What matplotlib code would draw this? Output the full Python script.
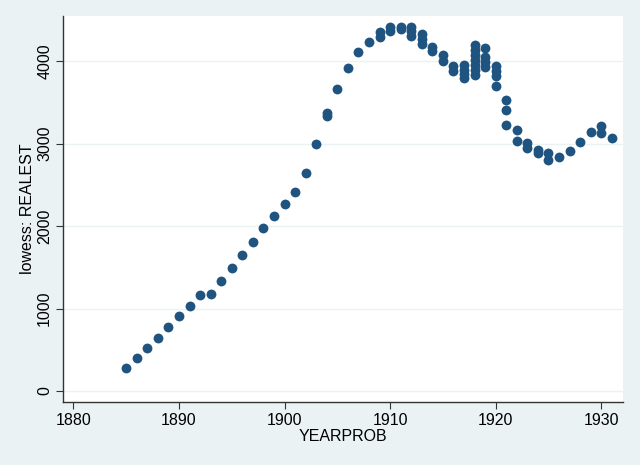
import matplotlib.pyplot as plt

plt.rcParams['font.family'] = ['Liberation Sans', 'DejaVu Sans']

years = [1885, 1886, 1887, 1888, 1889, 1890, 1891, 1892, 1893, 1894,
         1895, 1896, 1897, 1898, 1899, 1900, 1901, 1902, 1903, 1904, 1904,
         1905, 1906, 1907, 1908, 1909, 1909, 1910, 1910, 1911, 1911,
         1912, 1912, 1912, 1913, 1913, 1913, 1914, 1914, 1915, 1915,
         1916, 1916, 1917, 1917, 1917, 1917,
         1918, 1918, 1918, 1918, 1918, 1918, 1918,
         1919, 1919, 1919, 1919, 1920, 1920, 1920, 1920,
         1921, 1921, 1921, 1922, 1922, 1923, 1923, 1924, 1924,
         1925, 1925, 1926, 1927, 1928, 1929, 1930, 1930, 1931]
lowess_realest = [275, 396, 525, 646, 776, 905, 1034, 1164, 1172, 1329,
                  1487, 1653, 1810, 1975, 2125, 2270, 2416, 2642, 2994, 3330, 3370,
                  3661, 3919, 4105, 4230, 4355, 4295, 4408, 4367, 4408, 4384,
                  4408, 4360, 4303, 4327, 4270, 4206, 4173, 4125, 4073, 4004,
                  3943, 3882, 3951, 3890, 3840, 3790,
                  4194, 4130, 4070, 4010, 3950, 3890, 3830,
                  4154, 4050, 3990, 3925, 3940, 3880, 3820, 3697,
                  3531, 3403, 3228, 3164, 3034, 3002, 2942, 2921, 2888,
                  2880, 2800, 2840, 2905, 3022, 3143, 3212, 3123, 3070]

x_ticks = [1880, 1890, 1900, 1910, 1920, 1930]
y_ticks = [0, 1000, 2000, 3000, 4000]

bg = '#eaf2f3'
fig = plt.figure(figsize=(6.4, 4.65), dpi=100, facecolor=bg)
ax = fig.add_axes([0.099, 0.136, 0.875, 0.830])
ax.set_facecolor('white')

ax.scatter(years, lowess_realest, s=50, color='#1f5380', zorder=3, linewidths=0)

ax.set_xlim(1879.05, 1932.1)
ax.set_ylim(-130, 4549)
ax.set_xticks(x_ticks)
ax.set_yticks(y_ticks)
ax.set_yticklabels([str(v) for v in y_ticks], rotation=90, va='center')
ax.grid(axis='y', color=bg, linewidth=1)
ax.set_axisbelow(True)

for side in ['top', 'right']:
    ax.spines[side].set_visible(False)
for side in ['left', 'bottom']:
    ax.spines[side].set_color('#333333')
    ax.spines[side].set_linewidth(1)
ax.tick_params(axis='both', labelsize=11.5, length=5, color='#333333', pad=3)

ax.set_xlabel('YEARPROB', fontsize=11.5, labelpad=1)
ax.set_ylabel('lowess: REALEST', fontsize=11.5, labelpad=1.5)

fig.savefig('out.png', dpi=100, facecolor=bg)
